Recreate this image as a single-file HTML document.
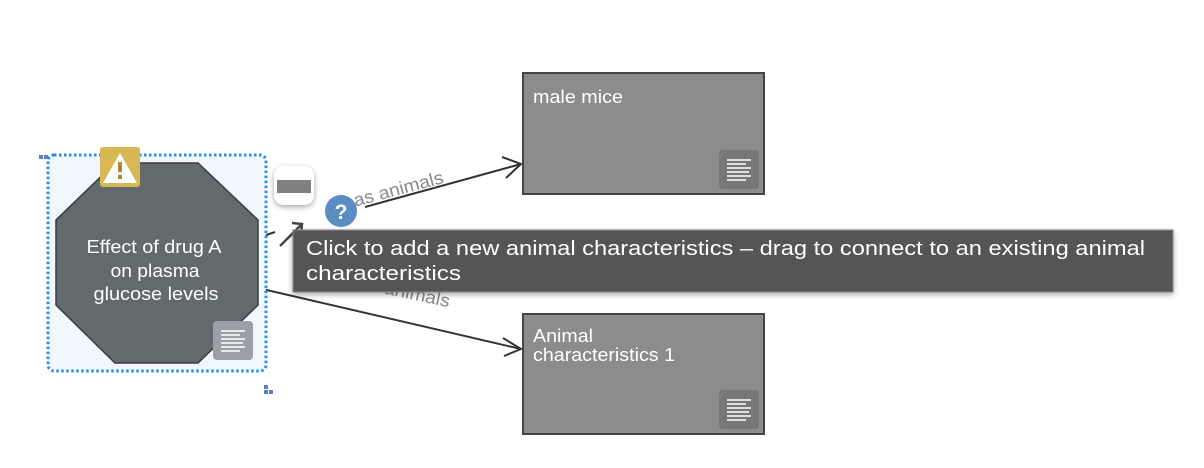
<!DOCTYPE html>
<html><head><meta charset="utf-8"><style>
body{margin:0;background:#fff;width:1204px;height:468px;overflow:hidden;font-family:"Liberation Sans",sans-serif}
svg{position:absolute;left:0;top:0}
</style></head><body>
<svg width="1204" height="468">
<defs>
<filter id="sh" x="-10%" y="-20%" width="120%" height="150%"><feDropShadow dx="0" dy="2" stdDeviation="3" flood-opacity="0.35"/></filter>
</defs>
<g>
<line x1="258" y1="238" x2="275" y2="232" stroke="#333" stroke-width="2"/>
<line x1="365" y1="207" x2="521" y2="164" stroke="#333" stroke-width="2"/>
<polyline points="502,157 521,164 506,178" fill="none" stroke="#333" stroke-width="2"/>
<text x="338" y="194" transform="rotate(-15 400 175)" font-size="18" textLength="103" lengthAdjust="spacingAndGlyphs" fill="#8a8a8a">has animals</text>
</g>
<g>
<line x1="258" y1="288" x2="521" y2="349" stroke="#333" stroke-width="2"/>
<polyline points="503,338 521,349 504,356" fill="none" stroke="#333" stroke-width="2"/>
<text x="346" y="297" transform="rotate(12 400 300)" font-size="18" textLength="103" lengthAdjust="spacingAndGlyphs" fill="#8a8a8a">has animals</text>
</g>
<rect x="48" y="155" width="218" height="216" rx="6" fill="#f1f7fe" stroke="#2b8fea" stroke-width="3" stroke-dasharray="2.5 2.5"/>
<rect x="39" y="155" width="4" height="4" fill="#5b7fc0"/>
<rect x="44" y="155" width="4" height="4" fill="#5b7fc0"/>
<rect x="264" y="385" width="4" height="4" fill="#5b7fc0"/>
<rect x="269" y="390" width="4" height="4" fill="#5b7fc0"/>
<rect x="264" y="390" width="4" height="4" fill="#5b7fc0"/>
<g>
<polygon points="115,163 198,163 258,220 258,305 198,363 115,363 56,305 56,220" fill="#636a6e" stroke="#3a3a3a" stroke-width="1.5"/>
<text text-anchor="middle" font-size="18" fill="#fff">
<tspan x="154" y="253" textLength="135" lengthAdjust="spacingAndGlyphs">Effect of drug A</tspan><tspan x="155" y="277" textLength="89" lengthAdjust="spacingAndGlyphs">on plasma</tspan><tspan x="156" y="300" textLength="125" lengthAdjust="spacingAndGlyphs">glucose levels</tspan></text>
<rect x="213" y="321" width="40" height="39" rx="4" fill="#9aa0a6"/>
<g stroke="#fff" stroke-width="1.5"><line x1="221" y1="331" x2="245" y2="331"/><line x1="221" y1="335" x2="240" y2="335"/><line x1="221" y1="339" x2="245" y2="339"/><line x1="221" y1="343" x2="243" y2="343"/><line x1="221" y1="347" x2="245" y2="347"/><line x1="221" y1="351" x2="240" y2="351"/></g>
<rect x="100" y="147" width="40" height="40" rx="3" fill="#d8b755"/>
<polygon points="120,153 137,183 103,183" fill="#fff"/>
<rect x="118" y="162" width="4" height="10" fill="#a88a30"/><rect x="118" y="175" width="4" height="4" fill="#a88a30"/>
</g>
<rect x="274" y="166" width="40" height="39" rx="10" fill="#fff" filter="url(#sh)"/>
<rect x="277" y="180" width="34" height="13" fill="#808080"/>
<circle cx="341" cy="211" r="16" fill="#5b8cc4"/>
<text x="341" y="219" text-anchor="middle" font-size="21" font-weight="bold" fill="#fff">?</text>
<g>
<line x1="280" y1="246" x2="302" y2="224" stroke="#444" stroke-width="2.5"/>
<polyline points="292,223 302,224 301,234" fill="none" stroke="#444" stroke-width="2.5"/>
</g>
<g>
<rect x="523" y="73" width="241" height="121" fill="#8c8c8c" stroke="#444" stroke-width="2"/>
<text x="533" y="103" font-size="18" textLength="90" lengthAdjust="spacingAndGlyphs" fill="#fff">male mice</text>
<rect x="719" y="150" width="40" height="39" rx="4" fill="#777"/>
<g stroke="#fff" stroke-width="1.5"><line x1="727" y1="160" x2="751" y2="160"/><line x1="727" y1="164" x2="746" y2="164"/><line x1="727" y1="168" x2="751" y2="168"/><line x1="727" y1="172" x2="749" y2="172"/><line x1="727" y1="176" x2="751" y2="176"/><line x1="727" y1="180" x2="746" y2="180"/></g>
</g>
<g>
<rect x="523" y="314" width="241" height="120" fill="#8c8c8c" stroke="#444" stroke-width="2"/>
<text font-size="18" fill="#fff"><tspan x="533" y="342" textLength="60" lengthAdjust="spacingAndGlyphs">Animal</tspan><tspan x="533" y="361" textLength="142" lengthAdjust="spacingAndGlyphs">characteristics 1</tspan></text>
<rect x="719" y="390" width="40" height="39" rx="4" fill="#777"/>
<g stroke="#fff" stroke-width="1.5"><line x1="727" y1="400" x2="751" y2="400"/><line x1="727" y1="404" x2="746" y2="404"/><line x1="727" y1="408" x2="751" y2="408"/><line x1="727" y1="412" x2="749" y2="412"/><line x1="727" y1="416" x2="751" y2="416"/><line x1="727" y1="420" x2="746" y2="420"/></g>
</g>
<g>
<rect x="293" y="230" width="880" height="62" fill="#545454" stroke="#8a8a8a" stroke-width="1" filter="url(#sh)"/>
<text font-size="20" fill="#fff"><tspan x="306" y="255" textLength="839" lengthAdjust="spacingAndGlyphs">Click to add a new animal characteristics – drag to connect to an existing animal</tspan><tspan x="306" y="280" textLength="155" lengthAdjust="spacingAndGlyphs">characteristics</tspan></text>
</g>
</svg>
</body></html>
